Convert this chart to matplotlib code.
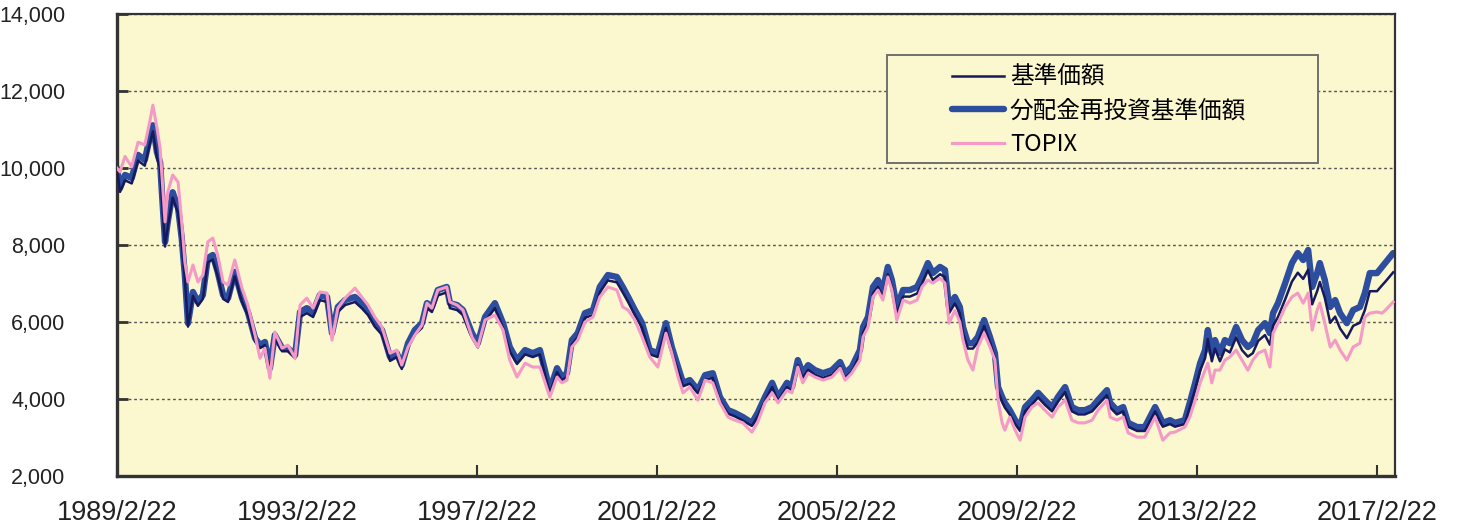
import matplotlib
matplotlib.use("Agg")
import matplotlib.pyplot as plt
from matplotlib.lines import Line2D
from matplotlib.patches import Rectangle
from matplotlib.ticker import FuncFormatter

# ---- data (decimal years) ----
dates = [
    1989.14, 1989.21, 1989.32, 1989.47, 1989.61, 1989.76, 1989.87, 1989.94,
    1990.03, 1990.10, 1990.14, 1990.21, 1990.27, 1990.38, 1990.50, 1990.58,
    1990.65, 1990.72, 1990.83, 1990.94, 1991.05, 1991.16, 1991.27, 1991.38,
    1991.50, 1991.61, 1991.76, 1991.92, 1992.05, 1992.21, 1992.32, 1992.43,
    1992.54, 1992.65, 1992.81, 1992.94, 1993.10, 1993.21, 1993.36, 1993.50,
    1993.65, 1993.81, 1993.92, 1994.05, 1994.21, 1994.43, 1994.58, 1994.72,
    1994.87, 1995.03, 1995.21, 1995.36, 1995.47, 1995.61, 1995.76, 1995.92,
    1996.03, 1996.14, 1996.27, 1996.47, 1996.54, 1996.70, 1996.83, 1997.03,
    1997.16, 1997.32, 1997.54, 1997.72, 1997.87, 1998.03, 1998.21, 1998.38,
    1998.54, 1998.76, 1998.92, 1999.03, 1999.14, 1999.25, 1999.38, 1999.54,
    1999.72, 1999.87, 2000.05, 2000.25, 2000.38, 2000.50, 2000.65, 2000.81,
    2000.98, 2001.16, 2001.34, 2001.47, 2001.61, 2001.72, 2001.87, 2002.05,
    2002.21, 2002.38, 2002.54, 2002.72, 2002.87, 2003.05, 2003.25, 2003.38,
    2003.54, 2003.70, 2003.83, 2004.03, 2004.14, 2004.27, 2004.38, 2004.50,
    2004.65, 2004.83, 2005.03, 2005.21, 2005.32, 2005.47, 2005.65, 2005.72,
    2005.83, 2005.94, 2006.05, 2006.16, 2006.27, 2006.36, 2006.47, 2006.61,
    2006.76, 2006.92, 2007.03, 2007.16, 2007.27, 2007.43, 2007.54, 2007.63,
    2007.76, 2007.87, 2007.94, 2008.05, 2008.16, 2008.27, 2008.41, 2008.54,
    2008.65, 2008.72, 2008.81, 2008.87, 2008.98, 2009.10, 2009.21, 2009.32,
    2009.47, 2009.61, 2009.76, 2009.92, 2010.05, 2010.21, 2010.36, 2010.50,
    2010.65, 2010.81, 2010.94, 2011.14, 2011.21, 2011.36, 2011.50, 2011.61,
    2011.81, 2011.98, 2012.21, 2012.38, 2012.54, 2012.65, 2012.87, 2012.98,
    2013.10, 2013.21, 2013.32, 2013.38, 2013.47, 2013.54, 2013.65, 2013.76,
    2013.87, 2014.01, 2014.14, 2014.27, 2014.38, 2014.50, 2014.65, 2014.76,
    2014.83, 2014.94, 2015.10, 2015.25, 2015.38, 2015.50, 2015.61, 2015.70,
    2015.81, 2015.87, 2015.98, 2016.10, 2016.21, 2016.32, 2016.47, 2016.61,
    2016.76, 2016.87, 2016.98, 2017.14, 2017.25, 2017.32, 2017.50,
]

# 基準価額
nav = [
    10000, 9380, 9680, 9600, 10190, 10060, 10620, 10950,
    10260, 10000, 9230, 7960, 8470, 9230, 8830, 8060,
    7110, 5880, 6680, 6420, 6600, 7550, 7620, 7190,
    6600, 6520, 7190, 6520, 6170, 5500, 5320, 5400,
    4730, 5580, 5240, 5240, 5060, 6130, 6230, 6130,
    6570, 6520, 5600, 6260, 6440, 6520, 6360, 6180,
    5880, 5670, 4990, 5090, 4780, 5340, 5670, 5850,
    6360, 6260, 6690, 6770, 6360, 6310, 6180, 5600,
    5340, 6010, 6360, 5850, 5240, 4910, 5160, 5090,
    5160, 4150, 4700, 4480, 4580, 5420, 5600, 6110,
    6180, 6770, 7080, 7030, 6770, 6520, 6180, 5850,
    5160, 5090, 5850, 5240, 4730, 4330, 4400, 4150,
    4500, 4550, 3950, 3620, 3550, 3440, 3300, 3550,
    3950, 4310, 3950, 4310, 4200, 4880, 4550, 4760,
    4630, 4550, 4630, 4840, 4550, 4710, 5140, 5720,
    5980, 6740, 6910, 6660, 7240, 6910, 6230, 6660,
    6660, 6740, 6990, 7340, 7090, 7240, 7170, 6230,
    6480, 6230, 5720, 5310, 5310, 5470, 5900, 5470,
    5060, 4200, 3930, 3780, 3600, 3350, 3170, 3680,
    3850, 4040, 3850, 3680, 3930, 4180, 3680, 3600,
    3600, 3680, 3850, 4100, 3780, 3600, 3680, 3280,
    3170, 3170, 3680, 3280, 3350, 3280, 3350, 3780,
    4260, 4740, 5060, 5560, 4980, 5310, 4980, 5290,
    5210, 5600, 5270, 5100, 5190, 5510, 5660, 5410,
    5900, 6130, 6590, 7050, 7280, 7120, 7360, 6460,
    6800, 7040, 6630, 5980, 6140, 5830, 5580, 5900,
    5980, 6310, 6800, 6800, 6950, 7040, 7290,
]

# 分配金再投資基準価額
nav_reinvested = [
    10000, 9480, 9820, 9740, 10340, 10210, 10780, 11110,
    10410, 10150, 9370, 8080, 8600, 9370, 8960, 8180,
    7220, 5970, 6780, 6520, 6700, 7660, 7740, 7300,
    6700, 6620, 7300, 6620, 6260, 5580, 5400, 5480,
    4800, 5660, 5320, 5320, 5140, 6260, 6360, 6260,
    6700, 6650, 5710, 6390, 6570, 6650, 6490, 6310,
    6000, 5790, 5090, 5190, 4880, 5450, 5790, 5970,
    6490, 6390, 6830, 6910, 6490, 6440, 6310, 5710,
    5450, 6130, 6490, 5970, 5350, 5010, 5270, 5190,
    5270, 4230, 4800, 4570, 4670, 5530, 5710, 6230,
    6310, 6910, 7220, 7170, 6910, 6650, 6310, 5970,
    5270, 5190, 5970, 5350, 4830, 4420, 4490, 4230,
    4620, 4670, 4050, 3710, 3640, 3530, 3380, 3640,
    4050, 4420, 4050, 4420, 4310, 5010, 4670, 4880,
    4750, 4670, 4750, 4960, 4670, 4830, 5270, 5870,
    6130, 6910, 7090, 6830, 7430, 7090, 6390, 6830,
    6830, 6910, 7170, 7530, 7270, 7430, 7350, 6390,
    6650, 6390, 5870, 5450, 5450, 5610, 6050, 5610,
    5190, 4310, 4050, 3900, 3710, 3450, 3270, 3790,
    3970, 4160, 3970, 3790, 4050, 4310, 3790, 3710,
    3710, 3790, 3970, 4230, 3900, 3710, 3790, 3380,
    3270, 3270, 3790, 3380, 3450, 3380, 3450, 3900,
    4420, 4930, 5270, 5790, 5190, 5530, 5190, 5530,
    5450, 5870, 5530, 5350, 5450, 5790, 5970, 5710,
    6230, 6490, 7010, 7530, 7790, 7610, 7870, 6910,
    7270, 7530, 7090, 6390, 6570, 6230, 5970, 6310,
    6390, 6750, 7270, 7270, 7430, 7530, 7790,
]

# TOPIX (rebased)
topix = [
    10000, 9900, 10300, 10030, 10670, 10600, 11200, 11630,
    11040, 10520, 9820, 8600, 9370, 9820, 9630, 8600,
    7560, 7040, 7480, 7040, 7220, 8080, 8180, 7740,
    7040, 6960, 7610, 6880, 6440, 5660, 5060, 5320,
    4540, 5740, 5320, 5400, 5060, 6440, 6620, 6360,
    6780, 6750, 5530, 6360, 6620, 6880, 6650, 6440,
    6130, 5870, 5190, 5270, 4880, 5350, 5660, 5920,
    6490, 6360, 6830, 6910, 6520, 6440, 6310, 5610,
    5350, 6050, 6180, 5790, 5010, 4570, 4930, 4830,
    4830, 4050, 4570, 4420, 4490, 5350, 5530, 6000,
    6130, 6650, 6910, 6830, 6390, 6310, 6050, 5610,
    5090, 4830, 5710, 5190, 4570, 4160, 4310, 3970,
    4490, 4420, 3900, 3530, 3450, 3380, 3140, 3400,
    3900, 4160, 3900, 4230, 4160, 4830, 4420, 4670,
    4570, 4490, 4570, 4800, 4490, 4670, 5010, 5610,
    5870, 6650, 6830, 6570, 7170, 6830, 6050, 6570,
    6490, 6570, 6910, 7090, 7010, 7140, 7010, 5970,
    6300, 6000, 5530, 5010, 4750, 5350, 5710, 5350,
    5010, 3970, 3380, 3190, 3530, 3190, 2930, 3530,
    3790, 3900, 3710, 3530, 3790, 3970, 3450, 3380,
    3380, 3450, 3710, 3970, 3530, 3450, 3530, 3120,
    3010, 3010, 3530, 2930, 3120, 3140, 3270, 3530,
    3970, 4420, 4750, 4930, 4420, 4750, 4750, 5010,
    5090, 5270, 5010, 4750, 5010, 5190, 5270, 4830,
    5710, 5970, 6390, 6650, 6750, 6490, 6750, 5790,
    6310, 6490, 5970, 5350, 5530, 5270, 5010, 5350,
    5450, 6130, 6230, 6260, 6230, 6300, 6520,
]

series_labels = ["基準価額", "分配金再投資基準価額", "TOPIX"]
xtick_labels = ["1989/2/22", "1993/2/22", "1997/2/22", "2001/2/22",
                "2005/2/22", "2009/2/22", "2013/2/22", "2017/2/22"]
yticks = [2000, 4000, 6000, 8000, 10000, 12000, 14000]


def label_to_year(s):
    y, m, d = (int(v) for v in s.split("/"))
    cum = [0, 31, 59, 90, 120, 151, 181, 212, 243, 273, 304, 334]
    return y + (cum[m - 1] + d - 1) / 365.0


xtick_pos = [label_to_year(s) for s in xtick_labels]

# ---- style ----
BG = "#FBF7CE"
C_NAV = "#16195C"
C_REINV = "#2D4E9E"
C_TOPIX = "#F59AC6"
AXC = "#333333"

tick_font = ["Liberation Sans", "DejaVu Sans"]
cjk_font = ["Noto Sans CJK JP", "DejaVu Sans"]

fig = plt.figure(figsize=(14.59, 5.26), dpi=100)
fig.patch.set_facecolor("white")
ax = fig.add_axes([117 / 1459, 50 / 526, 1278 / 1459, 462 / 526])
ax.set_facecolor(BG)

ax.plot(dates, nav_reinvested, color=C_REINV, lw=4.6, zorder=2,
        solid_joinstyle="round", solid_capstyle="round")
ax.plot(dates, nav, color=C_NAV, lw=1.8, zorder=3)
ax.plot(dates, topix, color=C_TOPIX, lw=2.2, zorder=4)

ax.set_xlim(xtick_pos[0], 2017.54)
ax.set_ylim(2000, 14000)

ax.set_yticks(yticks)
ax.yaxis.set_major_formatter(FuncFormatter(lambda v, p: f"{int(v):,}"))
ax.set_xticks(xtick_pos)
ax.set_xticklabels(xtick_labels)

for lab in ax.get_yticklabels():
    lab.set_fontfamily(tick_font)
    lab.set_fontsize(15.5)
for lab in ax.get_xticklabels():
    lab.set_fontfamily(tick_font)
    lab.set_fontsize(19.5)

ax.tick_params(axis="y", direction="in", length=8, width=2, color=AXC,
               pad=37, labelcolor="#222222")
ax.tick_params(axis="x", direction="in", length=8, width=1.5, color=AXC,
               pad=17, labelcolor="#222222")

for s in ["left", "bottom"]:
    ax.spines[s].set_linewidth(2.4)
    ax.spines[s].set_color(AXC)
for s in ["top", "right"]:
    ax.spines[s].set_linewidth(1.6)
    ax.spines[s].set_color(AXC)

ax.yaxis.grid(True, color="#555555", linestyle=(0, (2, 2)), linewidth=1.0)
ax.set_axisbelow(True)

# ---- legend ----
frame = Rectangle(((887 - 117) / 1278, (476 - 163) / 462),
                  (1318 - 887) / 1278, (163 - 55) / 462,
                  transform=ax.transAxes, facecolor=BG, edgecolor="#707070",
                  lw=1.4, zorder=5)
ax.add_patch(frame)
handles = [
    Line2D([], [], color=C_NAV, lw=1.8),
    Line2D([], [], color=C_REINV, lw=4.6, solid_capstyle="round"),
    Line2D([], [], color=C_TOPIX, lw=2.2),
]
leg = ax.legend(handles, series_labels, loc="upper left",
                bbox_to_anchor=((952 - 117) / 1278, (476 - 66) / 462),
                frameon=False, prop={"family": cjk_font, "size": 17},
                handlelength=2.2, handletextpad=0.25, labelspacing=0.45,
                borderpad=0.0, borderaxespad=0.0)
leg.set_zorder(6)

fig.savefig("out.png", dpi=100, facecolor="white")
